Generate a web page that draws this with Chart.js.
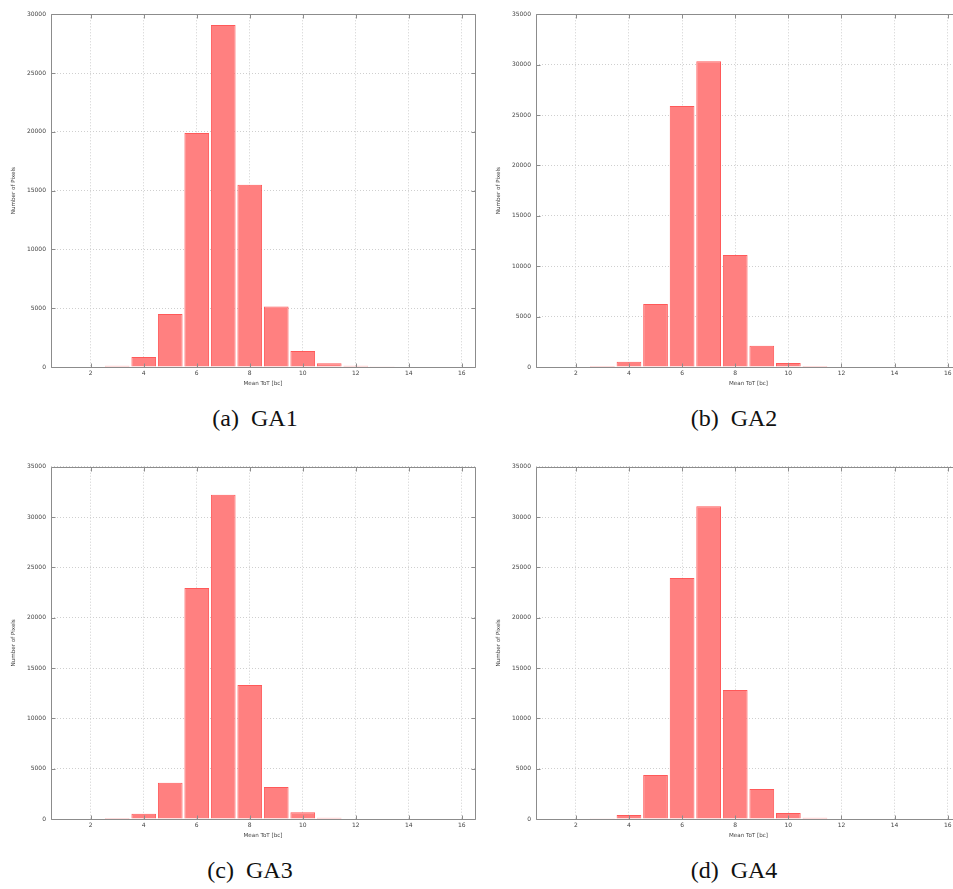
<!DOCTYPE html>
<html><head><meta charset="utf-8">
<script src="https://cdn.jsdelivr.net/npm/chart.js@4.4.0/dist/chart.umd.min.js"></script>
<style>
html,body{margin:0;padding:0;background:#fff;overflow:hidden;width:953px;height:889px;}
.panel{position:absolute;}
.panel canvas{display:block;}
.cap{position:absolute;font-family:"Liberation Serif","Times New Roman",serif;font-size:24px;color:#111;white-space:pre;transform:translate(-50%,-50%);line-height:1;}
</style></head><body>
<div class="panel" style="left:0px;top:0px"><canvas id="c1" width="480" height="395"></canvas></div>
<div class="panel" style="left:480px;top:0px"><canvas id="c2" width="486" height="395"></canvas></div>
<div class="panel" style="left:0px;top:452px"><canvas id="c3" width="480" height="395"></canvas></div>
<div class="panel" style="left:480px;top:452px"><canvas id="c4" width="486" height="395"></canvas></div>
<div class="cap" style="left:255px;top:418px">(a)  GA1</div>
<div class="cap" style="left:734px;top:418px">(b)  GA2</div>
<div class="cap" style="left:250px;top:870px">(c)  GA3</div>
<div class="cap" style="left:734px;top:870px">(d)  GA4</div>
<script>
// ---- data ----
const bins   = [1,2,3,4,5,6,7,8,9,10,11,12,13,14,15,16];
const xTicks = [2,4,6,8,10,12,14,16];
const ga1 = [0,0,100,850,4500,19900,29100,15500,5150,1360,310,110,70,0,0,0];
const ga2 = [0,0,100,530,6250,25900,30330,11110,2120,400,100,0,0,0,0,0];
const ga3 = [0,0,100,530,3610,22950,32220,13310,3180,660,120,0,0,0,0,0];
const ga4 = [0,0,80,400,4370,23940,31060,12810,2980,600,120,0,0,0,0,0];
const yMaxes = [30000,35000,35000,35000];
const yStep = 5000;
const xTitle = 'Mean ToT [bc]';
const yTitle = 'Number of Pixels';

const series = [ga1, ga2, ga3, ga4];
const ids = ['c1','c2','c3','c4'];
// layout per panel: y-axis width, top padding, y-title padding
const yAxisW = [51,56,51,56];
const topPad = [14.3,14.3,14.7,14.7];
const yTitlePad = [10.6,15.6,10.6,15.6];

const frame = {
  id:'frame',
  afterDatasetsDraw(chart){
    const {ctx, chartArea:a, scales:{x,y}} = chart;
    ctx.save();
    ctx.strokeStyle='#8c8c8c'; ctx.lineWidth=1;
    const L=Math.round(a.left)+0.5, R=Math.round(a.right)+0.5, T=Math.round(a.top)+0.5, B=Math.round(a.bottom)+0.5;
    ctx.beginPath();
    ctx.rect(L,T,R-L,B-T);
    x.ticks.forEach(t=>{const p=Math.round(x.getPixelForValue(t.value))+0.5; ctx.moveTo(p,B); ctx.lineTo(p,B-4); ctx.moveTo(p,T); ctx.lineTo(p,T+4);});
    y.ticks.forEach(t=>{const p=Math.round(y.getPixelForValue(t.value))+0.5; ctx.moveTo(L,p); ctx.lineTo(L+4,p); ctx.moveTo(R,p); ctx.lineTo(R-4,p);});
    ctx.stroke();
    ctx.restore();
  }
};

Chart.defaults.font.family = '"DejaVu Sans", sans-serif';
Chart.defaults.color = '#444';

series.forEach((vals,i)=>{
  const pts = bins.map((b,k)=>({x:b, y:vals[k]})).filter(p=>p.y>0);
  new Chart(document.getElementById(ids[i]), {
    type:'bar',
    data:{datasets:[{
      data:pts,
      backgroundColor:'#ff8080',
      borderColor:'rgba(255,60,60,0.85)',
      borderWidth:1,
      barPercentage:0.93,
      categoryPercentage:1.0
    }]},
    options:{
      responsive:false, animation:false, devicePixelRatio:1,
      layout:{padding:{left:0,right:5,top:topPad[i],bottom:0}},
      plugins:{legend:{display:false}, tooltip:{enabled:false}},
      scales:{
        x:{
          type:'linear', min:0.5, max:16.5, offset:false,
          afterBuildTicks:s=>{ s.ticks = xTicks.map(v=>({value:v})); },
          afterFit:s=>{ s.height = 28; },
          grid:{color:'#cfcfcf', drawTicks:false, offset:false},
          border:{display:false, dash:[1,2]},
          ticks:{font:{size:6}, padding:3, maxRotation:0, autoSkip:false, callback:v=>String(v)},
          title:{display:true, text:xTitle, font:{size:5.6}, padding:{top:0,bottom:7.6}}
        },
        y:{
          min:0, max:yMaxes[i],
          afterFit:s=>{ s.width = yAxisW[i]; },
          grid:{color:'#cfcfcf', drawTicks:false},
          border:{display:false, dash:[1,2]},
          ticks:{font:{size:6}, padding:5, stepSize:yStep, callback:v=>String(v)},
          title:{display:true, text:yTitle, font:{size:5.6}, padding:{top:yTitlePad[i],bottom:0}}
        }
      }
    },
    plugins:[frame]
  });
});
</script>
</body></html>
